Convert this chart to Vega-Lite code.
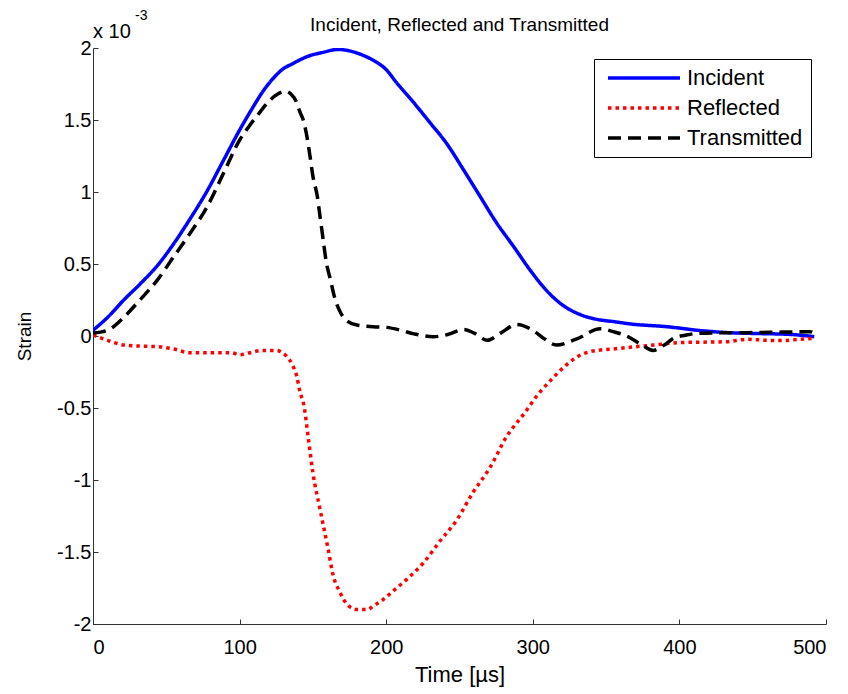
{
  "$schema": "https://vega.github.io/schema/vega-lite/v6.json",
  "width": 733,
  "height": 576,
  "autosize": {"type": "none"},
  "padding": {"left": 93, "top": 48, "right": 22, "bottom": 70},
  "background": "white",
  "config": {
    "view": {"stroke": null},
    "font": "Liberation Sans"
  },
  "title": {
    "text": "Incident, Reflected and Transmitted",
    "font": "Liberation Sans",
    "fontSize": 19,
    "fontWeight": "normal",
    "color": "black",
    "anchor": "middle",
    "baseline": "alphabetic",
    "offset": -20,
    "dy": 21
  },
  "datasets": {
    "strain": [
      {"t": 0, "v": 0.04, "s": "Incident"},
      {"t": 10, "v": 0.13, "s": "Incident"},
      {"t": 21, "v": 0.25, "s": "Incident"},
      {"t": 32, "v": 0.36, "s": "Incident"},
      {"t": 44, "v": 0.49, "s": "Incident"},
      {"t": 55, "v": 0.64, "s": "Incident"},
      {"t": 66, "v": 0.81, "s": "Incident"},
      {"t": 78, "v": 1.01, "s": "Incident"},
      {"t": 89, "v": 1.22, "s": "Incident"},
      {"t": 100, "v": 1.43, "s": "Incident"},
      {"t": 108, "v": 1.57, "s": "Incident"},
      {"t": 116, "v": 1.7, "s": "Incident"},
      {"t": 123, "v": 1.79, "s": "Incident"},
      {"t": 129, "v": 1.85, "s": "Incident"},
      {"t": 136, "v": 1.89, "s": "Incident"},
      {"t": 146, "v": 1.94, "s": "Incident"},
      {"t": 157, "v": 1.97, "s": "Incident"},
      {"t": 167, "v": 1.99, "s": "Incident"},
      {"t": 175, "v": 1.98, "s": "Incident"},
      {"t": 184, "v": 1.95, "s": "Incident"},
      {"t": 192, "v": 1.91, "s": "Incident"},
      {"t": 200, "v": 1.85, "s": "Incident"},
      {"t": 207, "v": 1.76, "s": "Incident"},
      {"t": 218, "v": 1.63, "s": "Incident"},
      {"t": 230, "v": 1.48, "s": "Incident"},
      {"t": 241, "v": 1.34, "s": "Incident"},
      {"t": 253, "v": 1.15, "s": "Incident"},
      {"t": 264, "v": 0.97, "s": "Incident"},
      {"t": 275, "v": 0.79, "s": "Incident"},
      {"t": 287, "v": 0.62, "s": "Incident"},
      {"t": 298, "v": 0.46, "s": "Incident"},
      {"t": 309, "v": 0.32, "s": "Incident"},
      {"t": 316, "v": 0.25, "s": "Incident"},
      {"t": 321, "v": 0.21, "s": "Incident"},
      {"t": 332, "v": 0.15, "s": "Incident"},
      {"t": 344, "v": 0.115, "s": "Incident"},
      {"t": 355, "v": 0.1, "s": "Incident"},
      {"t": 370, "v": 0.08, "s": "Incident"},
      {"t": 378, "v": 0.074, "s": "Incident"},
      {"t": 390, "v": 0.066, "s": "Incident"},
      {"t": 400, "v": 0.055, "s": "Incident"},
      {"t": 412, "v": 0.04, "s": "Incident"},
      {"t": 423, "v": 0.03, "s": "Incident"},
      {"t": 436, "v": 0.022, "s": "Incident"},
      {"t": 446, "v": 0.019, "s": "Incident"},
      {"t": 458, "v": 0.016, "s": "Incident"},
      {"t": 468, "v": 0.014, "s": "Incident"},
      {"t": 480, "v": 0.008, "s": "Incident"},
      {"t": 492, "v": -0.005, "s": "Incident"},
      {"t": 0, "v": 0.007, "s": "Reflected"},
      {"t": 10, "v": -0.03, "s": "Reflected"},
      {"t": 21, "v": -0.063, "s": "Reflected"},
      {"t": 32, "v": -0.07, "s": "Reflected"},
      {"t": 44, "v": -0.074, "s": "Reflected"},
      {"t": 55, "v": -0.09, "s": "Reflected"},
      {"t": 66, "v": -0.116, "s": "Reflected"},
      {"t": 80, "v": -0.116, "s": "Reflected"},
      {"t": 94, "v": -0.116, "s": "Reflected"},
      {"t": 100, "v": -0.13, "s": "Reflected"},
      {"t": 107, "v": -0.116, "s": "Reflected"},
      {"t": 116, "v": -0.1, "s": "Reflected"},
      {"t": 125, "v": -0.1, "s": "Reflected"},
      {"t": 129, "v": -0.115, "s": "Reflected"},
      {"t": 132, "v": -0.14, "s": "Reflected"},
      {"t": 136, "v": -0.2, "s": "Reflected"},
      {"t": 139, "v": -0.28, "s": "Reflected"},
      {"t": 141, "v": -0.38, "s": "Reflected"},
      {"t": 144, "v": -0.49, "s": "Reflected"},
      {"t": 147, "v": -0.72, "s": "Reflected"},
      {"t": 150, "v": -0.95, "s": "Reflected"},
      {"t": 155, "v": -1.21, "s": "Reflected"},
      {"t": 160, "v": -1.46, "s": "Reflected"},
      {"t": 164, "v": -1.67, "s": "Reflected"},
      {"t": 168, "v": -1.77, "s": "Reflected"},
      {"t": 171, "v": -1.83, "s": "Reflected"},
      {"t": 175, "v": -1.88, "s": "Reflected"},
      {"t": 180, "v": -1.9, "s": "Reflected"},
      {"t": 187, "v": -1.9, "s": "Reflected"},
      {"t": 192, "v": -1.87, "s": "Reflected"},
      {"t": 198, "v": -1.83, "s": "Reflected"},
      {"t": 206, "v": -1.76, "s": "Reflected"},
      {"t": 214, "v": -1.69, "s": "Reflected"},
      {"t": 225, "v": -1.58, "s": "Reflected"},
      {"t": 237, "v": -1.42, "s": "Reflected"},
      {"t": 248, "v": -1.28, "s": "Reflected"},
      {"t": 259, "v": -1.09, "s": "Reflected"},
      {"t": 271, "v": -0.91, "s": "Reflected"},
      {"t": 282, "v": -0.7, "s": "Reflected"},
      {"t": 294, "v": -0.54, "s": "Reflected"},
      {"t": 304, "v": -0.4, "s": "Reflected"},
      {"t": 312, "v": -0.31, "s": "Reflected"},
      {"t": 323, "v": -0.2, "s": "Reflected"},
      {"t": 331, "v": -0.14, "s": "Reflected"},
      {"t": 339, "v": -0.109, "s": "Reflected"},
      {"t": 359, "v": -0.086, "s": "Reflected"},
      {"t": 382, "v": -0.063, "s": "Reflected"},
      {"t": 400, "v": -0.046, "s": "Reflected"},
      {"t": 420, "v": -0.042, "s": "Reflected"},
      {"t": 432, "v": -0.04, "s": "Reflected"},
      {"t": 446, "v": -0.023, "s": "Reflected"},
      {"t": 460, "v": -0.03, "s": "Reflected"},
      {"t": 469, "v": -0.032, "s": "Reflected"},
      {"t": 480, "v": -0.025, "s": "Reflected"},
      {"t": 491, "v": -0.016, "s": "Reflected"},
      {"t": 0, "v": 0.02, "s": "Transmitted"},
      {"t": 10, "v": 0.04, "s": "Transmitted"},
      {"t": 21, "v": 0.13, "s": "Transmitted"},
      {"t": 32, "v": 0.25, "s": "Transmitted"},
      {"t": 44, "v": 0.39, "s": "Transmitted"},
      {"t": 55, "v": 0.55, "s": "Transmitted"},
      {"t": 66, "v": 0.71, "s": "Transmitted"},
      {"t": 78, "v": 0.9, "s": "Transmitted"},
      {"t": 89, "v": 1.13, "s": "Transmitted"},
      {"t": 100, "v": 1.36, "s": "Transmitted"},
      {"t": 106, "v": 1.45, "s": "Transmitted"},
      {"t": 112, "v": 1.53, "s": "Transmitted"},
      {"t": 121, "v": 1.64, "s": "Transmitted"},
      {"t": 126, "v": 1.68, "s": "Transmitted"},
      {"t": 131, "v": 1.7, "s": "Transmitted"},
      {"t": 135, "v": 1.68, "s": "Transmitted"},
      {"t": 139, "v": 1.62, "s": "Transmitted"},
      {"t": 141, "v": 1.56, "s": "Transmitted"},
      {"t": 144, "v": 1.48, "s": "Transmitted"},
      {"t": 146, "v": 1.38, "s": "Transmitted"},
      {"t": 148, "v": 1.25, "s": "Transmitted"},
      {"t": 150, "v": 1.11, "s": "Transmitted"},
      {"t": 153, "v": 0.97, "s": "Transmitted"},
      {"t": 155, "v": 0.82, "s": "Transmitted"},
      {"t": 157, "v": 0.67, "s": "Transmitted"},
      {"t": 159, "v": 0.52, "s": "Transmitted"},
      {"t": 162, "v": 0.39, "s": "Transmitted"},
      {"t": 165, "v": 0.26, "s": "Transmitted"},
      {"t": 169, "v": 0.16, "s": "Transmitted"},
      {"t": 174, "v": 0.1, "s": "Transmitted"},
      {"t": 180, "v": 0.076, "s": "Transmitted"},
      {"t": 191, "v": 0.065, "s": "Transmitted"},
      {"t": 200, "v": 0.06, "s": "Transmitted"},
      {"t": 210, "v": 0.04, "s": "Transmitted"},
      {"t": 219, "v": 0.015, "s": "Transmitted"},
      {"t": 232, "v": -0.005, "s": "Transmitted"},
      {"t": 242, "v": 0.01, "s": "Transmitted"},
      {"t": 253, "v": 0.045, "s": "Transmitted"},
      {"t": 260, "v": 0.02, "s": "Transmitted"},
      {"t": 269, "v": -0.03, "s": "Transmitted"},
      {"t": 278, "v": 0.02, "s": "Transmitted"},
      {"t": 289, "v": 0.08, "s": "Transmitted"},
      {"t": 300, "v": 0.04, "s": "Transmitted"},
      {"t": 308, "v": -0.02, "s": "Transmitted"},
      {"t": 316, "v": -0.063, "s": "Transmitted"},
      {"t": 330, "v": -0.02, "s": "Transmitted"},
      {"t": 346, "v": 0.05, "s": "Transmitted"},
      {"t": 355, "v": 0.03, "s": "Transmitted"},
      {"t": 364, "v": 0.0, "s": "Transmitted"},
      {"t": 374, "v": -0.06, "s": "Transmitted"},
      {"t": 382, "v": -0.1, "s": "Transmitted"},
      {"t": 390, "v": -0.06, "s": "Transmitted"},
      {"t": 396, "v": -0.016, "s": "Transmitted"},
      {"t": 404, "v": 0.005, "s": "Transmitted"},
      {"t": 412, "v": 0.018, "s": "Transmitted"},
      {"t": 430, "v": 0.022, "s": "Transmitted"},
      {"t": 446, "v": 0.023, "s": "Transmitted"},
      {"t": 470, "v": 0.027, "s": "Transmitted"},
      {"t": 489, "v": 0.03, "s": "Transmitted"},
      {"t": 492, "v": 0.02, "s": "Transmitted"}
    ]
  },
  "layer": [
    {
      "data": {"name": "strain"},
      "mark": {"type": "line", "strokeWidth": 3.5, "strokeCap": "butt", "strokeJoin": "round", "interpolate": "monotone", "clip": true},
      "encoding": {
        "x": {
          "field": "t", "type": "quantitative",
          "scale": {"domain": [0, 500], "nice": false, "zero": false},
          "axis": {
            "title": "Time [µs]",
            "values": [0, 100, 200, 300, 400, 500],
            "grid": false,
            "domainColor": "#333",
            "tickColor": "#333",
            "tickSize": -5,
            "labelPadding": 18,
            "labelFontSize": 20,
            "labelColor": "black",
            "labelFont": "Liberation Sans",
            "titleFontSize": 22,
            "titleFontWeight": "normal",
            "titleColor": "black",
            "titleFont": "Liberation Sans",
            "titlePadding": 7,
            "labelExpr": "datum.value + ''"
          }
        },
        "y": {
          "field": "v", "type": "quantitative",
          "scale": {"domain": [-2, 2], "nice": false, "zero": false},
          "axis": {
            "title": "Strain",
            "values": [-2, -1.5, -1, -0.5, 0, 0.5, 1, 1.5, 2],
            "grid": false,
            "domainColor": "#333",
            "tickColor": "#333",
            "tickSize": -5,
            "labelPadding": 7,
            "labelFontSize": 20,
            "labelColor": "black",
            "labelFont": "Liberation Sans",
            "titleFontSize": 19,
            "titleFontWeight": "normal",
            "titleColor": "black",
            "titleFont": "Liberation Sans",
            "titlePadding": 22,
            "labelExpr": "datum.value + ''"
          }
        },
        "color": {
          "field": "s", "type": "nominal",
          "scale": {"domain": ["Incident", "Reflected", "Transmitted"], "range": ["#0000FF", "#FF0000", "#000000"]},
          "legend": {
            "title": null,
            "orient": "none",
            "legendX": 501,
            "legendY": 11,
            "symbolType": "M-4,0H4",
            "symbolSize": 324,
            "symbolStrokeWidth": 3.5,
            "symbolOffset": 31,
            "labelOffset": 32,
            "labelFontSize": 22,
            "labelFont": "Liberation Sans",
            "labelColor": "black",
            "strokeColor": "black",
            "fillColor": "white",
            "padding": 8,
            "rowPadding": 8
          }
        },
        "strokeDash": {
          "field": "s", "type": "nominal",
          "scale": {"domain": ["Incident", "Reflected", "Transmitted"], "range": [[1, 0], [3.5, 4], [13, 7]]},
          "legend": {
            "title": null,
            "orient": "none",
            "legendX": 501,
            "legendY": 11,
            "symbolType": "M-4,0H4",
            "symbolSize": 324,
            "symbolStrokeWidth": 3.5,
            "symbolOffset": 31,
            "labelOffset": 32,
            "labelFontSize": 22,
            "labelFont": "Liberation Sans",
            "labelColor": "black",
            "strokeColor": "black",
            "fillColor": "white",
            "padding": 8,
            "rowPadding": 8
          }
        }
      }
    },
    {
      "data": {"values": [{"txt": "x 10"}]},
      "mark": {"type": "text", "align": "left", "baseline": "alphabetic", "fontSize": 20, "font": "Liberation Sans", "color": "black", "dy": -10, "dx": 0},
      "encoding": {
        "x": {"datum": 0, "type": "quantitative"},
        "y": {"datum": 2, "type": "quantitative"},
        "text": {"field": "txt"}
      }
    },
    {
      "data": {"values": [{"txt": "-3"}]},
      "mark": {"type": "text", "align": "left", "baseline": "alphabetic", "fontSize": 14, "font": "Liberation Sans", "color": "black", "dy": -28, "dx": 42},
      "encoding": {
        "x": {"datum": 0, "type": "quantitative"},
        "y": {"datum": 2, "type": "quantitative"},
        "text": {"field": "txt"}
      }
    }
  ]
}
